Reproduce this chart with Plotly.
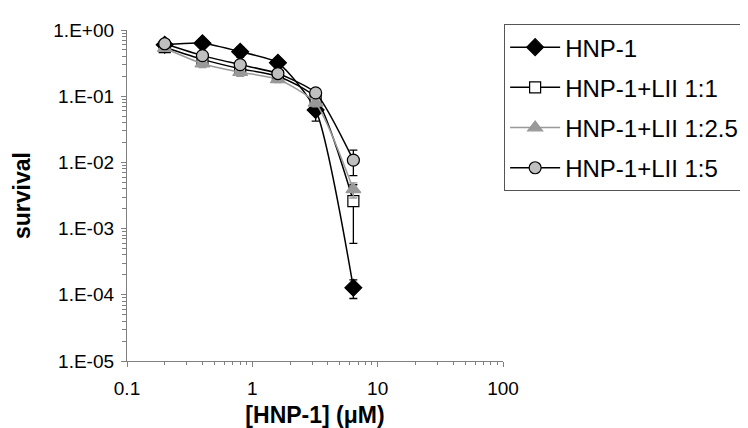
import plotly.graph_objects as go

# =====================================================
# Data
# =====================================================

conc = [0.2, 0.4, 0.8, 1.6, 3.2, 6.4]

hnp1 = [0.60, 0.63, 0.47, 0.32, 0.062, 0.000128]
hnp1_err = [0.04, 0.08, 0.08, 0.03, 0.02, 0.00004]

lii_1_1 = [0.55, 0.36, 0.26, 0.20, 0.095, 0.0026]
lii_1_1_err = [0.03, 0.05, 0.04, 0.03, 0.01, 0.002]

lii_1_25 = [0.53, 0.31, 0.23, 0.18, 0.079, 0.0039]
lii_1_25_err = [0.03, 0.04, 0.03, 0.02, 0.01, 0.001]

lii_1_5 = [0.62, 0.41, 0.30, 0.22, 0.112, 0.0108]
lii_1_5_err = [0.03, 0.04, 0.03, 0.02, 0.01, 0.0045]

y_ticks = [1, 0.1, 0.01, 0.001, 0.0001, 0.00001]
y_labels = ["1.E+00", "1.E-01", "1.E-02", "1.E-03", "1.E-04", "1.E-05"]
x_ticks = [0.1, 1, 10, 100]
x_labels = ["0.1", "1", "10", "100"]

FONT = "Liberation Sans, Arial, sans-serif"
AXIS_GREY = "#808080"

# minor tick positions (2..9 within each decade)
y_minor = [m * 10.0 ** e for e in range(-5, 0) for m in range(2, 10)]
x_minor = [m * 10.0 ** e for e in range(-1, 2) for m in range(2, 10)]

# =====================================================
# Figure
# =====================================================

fig = go.Figure()


def add_series(name, y, err, symbol, fill, edge, line_color, size):
    fig.add_trace(go.Scatter(
        x=conc,
        y=y,
        name=name,
        legendgroup=name,
        mode="lines+markers",
        line=dict(color=line_color, width=1.5, shape="spline", smoothing=0.6),
        marker=dict(symbol=symbol, size=size, color=fill,
                    line=dict(color=edge, width=1.2)),
        error_y=dict(type="data", array=err, color=line_color,
                     thickness=1.3, width=4),
    ))


add_series("HNP-1", hnp1, hnp1_err, "diamond", "black", "black", "black", 13)
add_series("HNP-1+LII 1:1", lii_1_1, lii_1_1_err, "square", "white", "black", "black", 11)
add_series("HNP-1+LII 1:2.5", lii_1_25, lii_1_25_err, "triangle-up", "#999999", "#999999", "#999999", 13)
add_series("HNP-1+LII 1:5", lii_1_5, lii_1_5_err, "circle", "#c0c0c0", "black", "black", 12)

fig.update_layout(
    width=748,
    height=428,
    plot_bgcolor="white",
    paper_bgcolor="white",
    margin=dict(l=119, r=253, t=13, b=75),
    font=dict(family=FONT, size=19, color="black"),
    legend=dict(
        x=1.003, xanchor="left",
        y=1.018, yanchor="top",
        bordercolor="#555555", borderwidth=1,
        bgcolor="white",
        font=dict(size=24),
        itemwidth=50,
        traceorder="grouped",
        tracegroupgap=6,
    ),
)

fig.update_xaxes(
    type="log",
    range=[-1, 2],
    tickvals=x_ticks,
    ticktext=x_labels,
    showline=True, linecolor=AXIS_GREY, linewidth=1.3,
    ticks="outside", ticklen=5, tickcolor=AXIS_GREY,
    ticklabelstandoff=5,
    minor=dict(tickmode="array", tickvals=x_minor, ticks="outside",
               ticklen=3, tickcolor=AXIS_GREY),
    showgrid=False, zeroline=False,
    title=dict(text="<b>[HNP-1] (μM)</b>", font=dict(size=23), standoff=8),
)

fig.update_yaxes(
    type="log",
    range=[-5, 0],
    tickvals=y_ticks,
    ticktext=y_labels,
    showline=True, linecolor=AXIS_GREY, linewidth=1.3,
    ticks="outside", ticklen=5, tickcolor=AXIS_GREY,
    ticklabelstandoff=3,
    minor=dict(tickmode="array", tickvals=y_minor, ticks="outside",
               ticklen=4, tickcolor=AXIS_GREY),
    showgrid=False, zeroline=False,
    title=dict(text="<b>survival</b>", font=dict(size=23), standoff=16),
)

fig.write_html("out.html")
